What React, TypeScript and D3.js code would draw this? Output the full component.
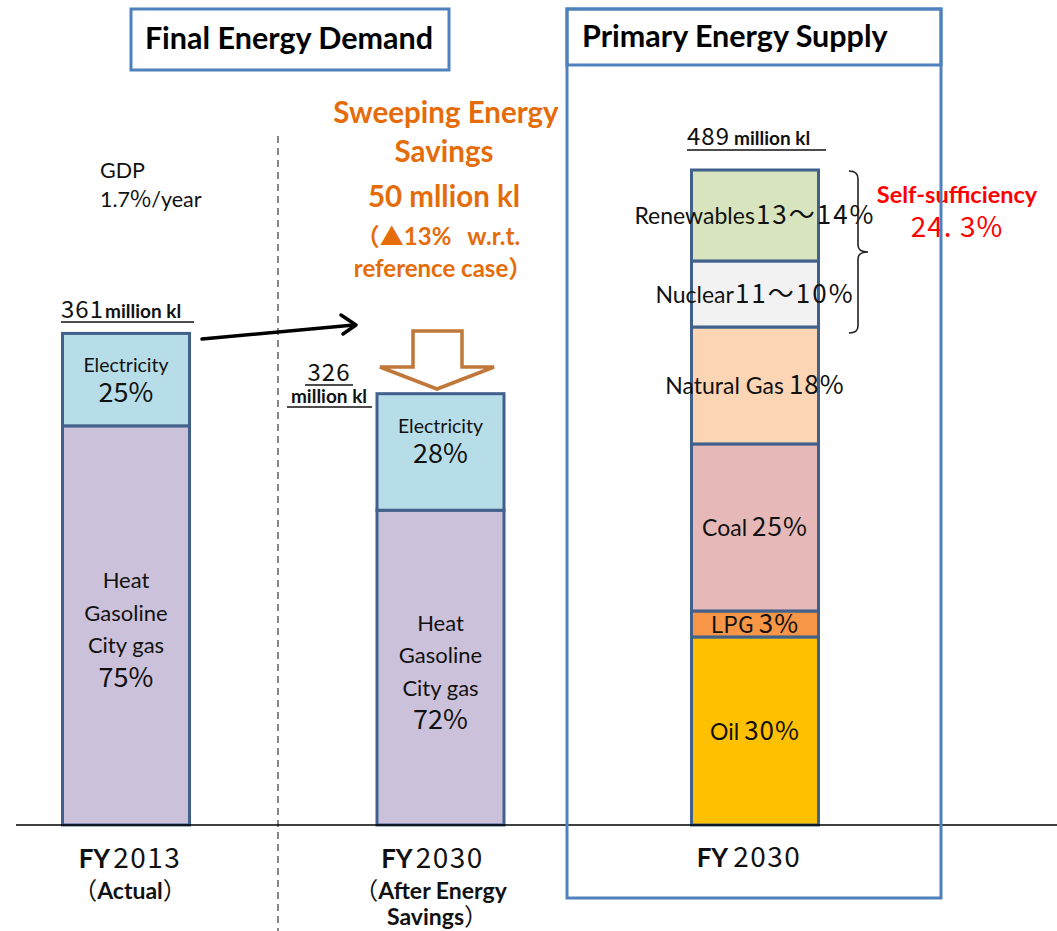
import React from "react";
import * as d3 from "d3";

// ---------- data (bar heights in million kl) ----------
const categories = ["FY2013", "FY2030", "FY2030supply"];
const totalLabels = ["361", "326", "489"];

const demandSegments = ["Heat", "Electricity"];
const demand2013Values = [298, 69];
const demand2030Values = [235, 87];
const demand2013Shares = ["75%", "25%"];
const demand2030Shares = ["72%", "28%"];

const supplySources = ["Oil", "LPG", "Coal", "Natural Gas", "Nuclear", "Renewables"];
const supplyValues = [140.4, 19.4, 124.7, 87.3, 49.3, 67.9];
const supplyShares = ["30%", "3%", "25%", "18%", "11～10%", "13～14%"];

const maxTotal = 489;

// ---------- style ----------
const W = 1057;
const H = 931;
const LATIN = "Lato, 'Noto Sans', sans-serif";
const CJK = "'Noto Sans CJK JP', sans-serif";
const BAR_STROKE = "#41618C";
const BOX_STROKE = "#4F81BD";
const ORANGE = "#E46C0A";
const demandColors: Record<string, string> = { Heat: "#CCC1DA", Electricity: "#B7DEE8" };
const supplyColors: Record<string, string> = {
  Oil: "#FFC000",
  LPG: "#F79646",
  Coal: "#E6B9B8",
  "Natural Gas": "#FCD5B5",
  Nuclear: "#F2F2F2",
  Renewables: "#D7E4BD",
};

const baseY = 825;
const topY = 170;
const barW = 127;

type Seg = { key: string; y0: number; y1: number; share: string };

function stackSegs(keys: string[], values: number[], shares: string[]): Seg[] {
  let acc = 0;
  return keys.map((k, i) => {
    const s = { key: k, y0: acc, y1: acc + values[i], share: shares[i] };
    acc += values[i];
    return s;
  });
}

export default function App() {
  const x = d3.scalePoint<string>().domain(categories).range([126, 755]);
  const y = d3.scaleLinear().domain([0, maxTotal]).range([baseY, topY]);

  const bars = [
    { cat: categories[0], segs: stackSegs(demandSegments, demand2013Values, demand2013Shares), colors: demandColors },
    { cat: categories[1], segs: stackSegs(demandSegments, demand2030Values, demand2030Shares), colors: demandColors },
    { cat: categories[2], segs: stackSegs(supplySources, supplyValues, supplyShares), colors: supplyColors },
  ];

  const renderDemandLabel = (seg: Seg, cx: number) => {
    const mid = (y(seg.y0) + y(seg.y1)) / 2;
    if (seg.key === "Heat") {
      const lines = ["Heat", "Gasoline", "City gas"];
      const lh = 32.5;
      const start = mid - 37;
      return (
        <g>
          {lines.map((l, i) => (
            <text key={l} x={cx} y={start + i * lh} textAnchor="middle" fontFamily={LATIN} fontSize={22} fill="#111">
              {l}
            </text>
          ))}
          <text x={cx} y={start + 3 * lh + 1} textAnchor="middle" fontFamily={CJK} fontSize={27} fill="#111">
            {seg.share}
          </text>
        </g>
      );
    }
    const top = y(seg.y1);
    return (
      <g>
        <text x={cx} y={top + 39} textAnchor="middle" fontFamily={LATIN} fontSize={19.5} fill="#111">
          Electricity
        </text>
        <text x={cx} y={top + 69} textAnchor="middle" fontFamily={CJK} fontSize={27} fill="#111">
          {seg.share}
        </text>
      </g>
    );
  };

  const renderSupplyLabel = (seg: Seg, cx: number) => {
    const mid = (y(seg.y0) + y(seg.y1)) / 2;
    const isLPG = seg.key === "LPG";
    const wide = seg.share.includes("～");
    return (
      <text x={cx} y={mid + 9} textAnchor="middle" fill="#111">
        <tspan fontFamily={isLPG ? CJK : LATIN} fontSize={23}>
          {seg.key}
        </tspan>
        <tspan fontFamily={CJK} fontSize={26} letterSpacing={wide ? 2 : 1} dx={wide ? 1 : 5}>
          {seg.share}
        </tspan>
      </text>
    );
  };

  const cx0 = x(categories[0])!;
  const cx1 = x(categories[1])!;
  const cx2 = x(categories[2])!;

  return (
    <svg
      width={W}
      height={H}
      viewBox={`0 0 ${W} ${H}`}
      style={{ position: "absolute", left: 0, top: 0, background: "#fff" }}
    >
      <rect x={0} y={0} width={W} height={H} fill="#fff" />

      {/* dashed divider */}
      <line x1={278} x2={278} y1={136} y2={H} stroke="#111" strokeWidth={1} strokeDasharray="7,5" />

      {/* Final Energy Demand title */}
      <rect x={131} y={9} width={318} height={61} fill="#fff" stroke={BOX_STROKE} strokeWidth={3} />
      <text x={289} y={49} textAnchor="middle" fontFamily={LATIN} fontWeight={700} fontSize={30.5} fill="#000">
        Final Energy Demand
      </text>

      {/* GDP */}
      <text x={100} y={178} fontFamily={LATIN} fontSize={21.5} fill="#111">GDP</text>
      <text x={100} y={207} fill="#111">
        <tspan fontFamily={LATIN} fontSize={21.5}>1.7</tspan>
        <tspan fontFamily={CJK} fontSize={23}>%</tspan>
        <tspan fontFamily={LATIN} fontSize={21.5}>/year</tspan>
      </text>

      {/* Orange savings text */}
      <g fill={ORANGE} fontFamily={LATIN} fontWeight={700} textAnchor="middle">
        <text x={446} y={123} fontSize={29.5}>Sweeping Energy</text>
        <text x={444} y={162} fontSize={29.5}>Savings</text>
        <text x={444} y={207} fontSize={29.5}>50 mllion kl</text>
        <text x={438} y={245} fontSize={24}>
          <tspan fontFamily={CJK}>（▲</tspan>
          <tspan>13%</tspan>
          <tspan dx={16}>w.r.t.</tspan>
        </text>
        <text x={443} y={277} fontSize={24}>
          <tspan>reference case</tspan>
          <tspan fontFamily={CJK}>）</tspan>
        </text>
      </g>

      {/* total labels */}
      <g fill="#111">
        <text x={61} y={318}>
          <tspan fontFamily={CJK} fontSize={24} letterSpacing={1}>{totalLabels[0]}</tspan>
          <tspan fontFamily={LATIN} fontWeight={700} fontSize={19} dx={1}>million kl</tspan>
        </text>
        <line x1={61} x2={194} y1={322} y2={322} stroke="#111" strokeWidth={1.5} />

        <text x={329} y={381} textAnchor="middle" fontFamily={CJK} fontSize={24} letterSpacing={1}>{totalLabels[1]}</text>
        <line x1={305} x2={353} y1={385} y2={385} stroke="#111" strokeWidth={1.5} />
        <text x={329} y={403} textAnchor="middle" fontFamily={LATIN} fontWeight={700} fontSize={19}>million kl</text>
        <line x1={287} x2={372} y1={407} y2={407} stroke="#111" strokeWidth={1.5} />

        <text x={687} y={145}>
          <tspan fontFamily={CJK} fontSize={24} letterSpacing={1}>{totalLabels[2]}</tspan>
          <tspan fontFamily={LATIN} fontWeight={700} fontSize={19} dx={4}>million kl</tspan>
        </text>
        <line x1={687} x2={826} y1={150} y2={150} stroke="#111" strokeWidth={1.5} />
      </g>

      {/* black arrow */}
      <line x1={202} y1={339} x2={354} y2={325} stroke="#000" strokeWidth={3.5} strokeLinecap="round" />
      <path d="M341,315 L356,325 L343,334" fill="none" stroke="#000" strokeWidth={3.5} strokeLinecap="round" strokeLinejoin="round" />

      {/* hollow down arrow */}
      <path
        d="M413,331 L462,331 L462,367 L494,367 L437,389 L380,367 L413,367 Z"
        fill="#fff"
        stroke="#C0773A"
        strokeWidth={3.5}
        strokeLinejoin="miter"
      />

      {/* bars */}
      {bars.map((b, bi) => {
        const cx = x(b.cat)!;
        return (
          <g key={b.cat}>
            {b.segs.map((s) => (
              <rect
                key={s.key}
                x={cx - barW / 2}
                y={y(s.y1)}
                width={barW}
                height={y(s.y0) - y(s.y1)}
                fill={b.colors[s.key]}
                stroke={BAR_STROKE}
                strokeWidth={3}
              />
            ))}
            {b.segs.map((s) => (
              <g key={s.key + "-lbl"}>{bi < 2 ? renderDemandLabel(s, cx) : renderSupplyLabel(s, cx)}</g>
            ))}
          </g>
        );
      })}

      {/* baseline */}
      <line x1={16} x2={W} y1={baseY} y2={baseY} stroke="#000" strokeWidth={1.5} />

      {/* category labels */}
      <g fill="#111" textAnchor="middle">
        <text x={cx0 + 4} y={868}>
          <tspan fontFamily={LATIN} fontWeight={700} fontSize={26}>FY</tspan>
          <tspan fontFamily={CJK} fontSize={28} dx={3} letterSpacing={1.5}>2013</tspan>
        </text>
        <text x={cx0 + 4} y={899}>
          <tspan fontFamily={CJK} fontSize={24}>（</tspan>
          <tspan fontFamily={LATIN} fontWeight={700} fontSize={23}>Actual</tspan>
          <tspan fontFamily={CJK} fontSize={24}>）</tspan>
        </text>

        <text x={cx1 - 8} y={868}>
          <tspan fontFamily={LATIN} fontWeight={700} fontSize={26}>FY</tspan>
          <tspan fontFamily={CJK} fontSize={28} dx={3} letterSpacing={1.5}>2030</tspan>
        </text>
        <text x={cx1 - 10} y={899}>
          <tspan fontFamily={CJK} fontSize={24}>（</tspan>
          <tspan fontFamily={LATIN} fontWeight={700} fontSize={23}>After Energy</tspan>
        </text>
        <text x={cx1 - 3} y={925}>
          <tspan fontFamily={LATIN} fontWeight={700} fontSize={23}>Savings</tspan>
          <tspan fontFamily={CJK} fontSize={24}>）</tspan>
        </text>

        <text x={cx2 - 6} y={867}>
          <tspan fontFamily={LATIN} fontWeight={700} fontSize={26}>FY</tspan>
          <tspan fontFamily={CJK} fontSize={28} dx={5} letterSpacing={1.5}>2030</tspan>
        </text>
      </g>

      {/* brace for self-sufficiency */}
      <path
        d="M849,171 Q858,171 858,179 L858,245 Q858,252 868,252 Q858,252 858,259 L858,326 Q858,333 849,333"
        fill="none"
        stroke="#222"
        strokeWidth={1.6}
      />
      <text x={957} y={203} textAnchor="middle" fontFamily={LATIN} fontWeight={700} fontSize={23.5} fill="#FF0000">
        Self-sufficiency
      </text>
      <text x={957} y={237} textAnchor="middle" fontFamily={CJK} fontSize={28} fill="#FF0000" letterSpacing={1}>
        24. 3%
      </text>

      {/* Primary Energy Supply box */}
      <rect x={567} y={9} width={374} height={889} fill="none" stroke={BOX_STROKE} strokeWidth={3} />
      <rect x={567} y={9} width={374} height={56} fill="none" stroke={BOX_STROKE} strokeWidth={3} />
      <text x={582} y={47} fontFamily={LATIN} fontWeight={700} fontSize={30.5} fill="#000">
        Primary Energy Supply
      </text>
    </svg>
  );
}
